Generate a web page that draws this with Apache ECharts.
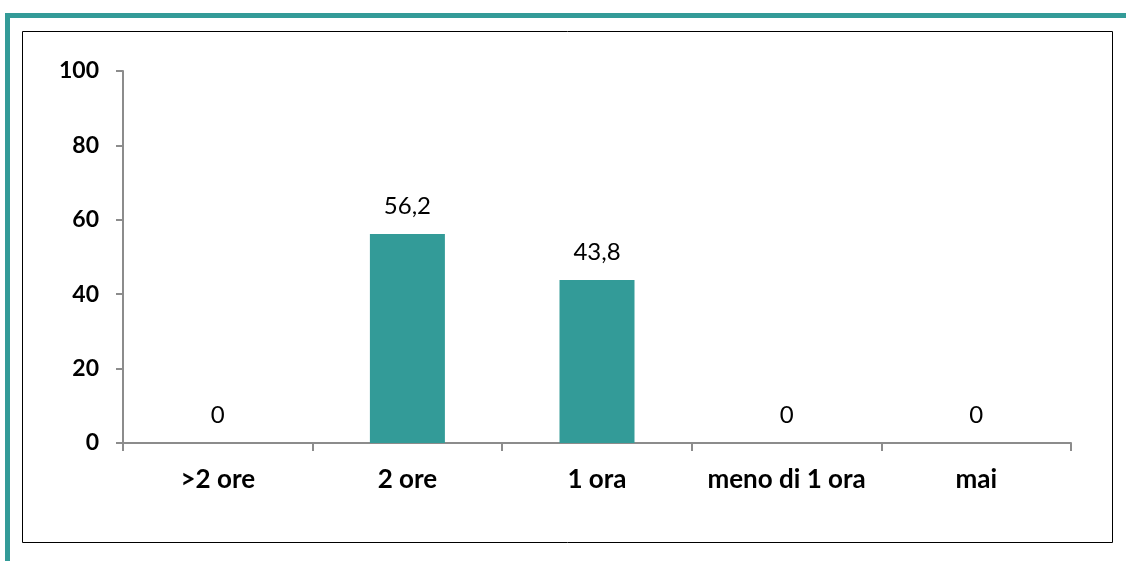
<!DOCTYPE html>
<html><head><meta charset="utf-8">
<script src="https://cdn.jsdelivr.net/npm/echarts@6/dist/echarts.min.js"></script>
<style>html,body{margin:0;padding:0;background:#fff}#c{width:1126px;height:561px}</style>
</head><body><div id="c"></div>
<script>
const categories = ['>2 ore', '2 ore', '1 ora', 'meno di 1 ora', 'mai'];
const values = [0, 56.2, 43.8, 0, 0];
const yTicks = [0, 20, 40, 60, 80, 100];

const teal = '#339b98';
const chart = echarts.init(document.getElementById('c'), null, {renderer: 'canvas'});
chart.setOption({
  animation: false,
  backgroundColor: '#fff',
  textStyle: {fontFamily: 'Lato'},
  graphic: [
    {type: 'rect', shape: {x: 5, y: 13, width: 1121, height: 5}, style: {fill: teal}, silent: true},
    {type: 'rect', shape: {x: 5, y: 13, width: 5, height: 548}, style: {fill: teal}, silent: true},
    {type: 'rect', shape: {x: 22.5, y: 31.5, width: 1090, height: 511}, style: {fill: 'none', stroke: '#000', lineWidth: 1}, silent: true}
  ],
  grid: {left: 123, right: 55, top: 71, bottom: 118, containLabel: false},
  xAxis: {
    type: 'category',
    data: categories,
    axisLine: {lineStyle: {color: '#8c8c8c', width: 2}},
    axisTick: {show: true, interval: 0, length: 8, lineStyle: {color: '#8c8c8c', width: 2}},
    axisLabel: {interval: 0, hideOverlap: false, color: '#000', fontWeight: 'bold', fontSize: 26, margin: 24, fontFamily: 'Lato'}
  },
  yAxis: {
    type: 'value', min: 0, max: 100, interval: 20,
    axisLine: {show: true, lineStyle: {color: '#8c8c8c', width: 2}},
    axisTick: {show: true, length: 7, lineStyle: {color: '#8c8c8c', width: 2}},
    splitLine: {show: false},
    axisLabel: {color: '#000', fontWeight: 'bold', fontSize: 23, margin: 24, fontFamily: 'Lato',
      formatter: v => yTicks.includes(v) ? String(v) : ''}
  },
  series: [{
    type: 'bar',
    data: values,
    barWidth: 75,
    itemStyle: {color: teal},
    label: {show: true, position: 'top', distance: 16, color: '#000', fontSize: 24, fontFamily: 'Lato',
      formatter: p => String(p.value).replace('.', ',')}
  }]
});
</script></body></html>
